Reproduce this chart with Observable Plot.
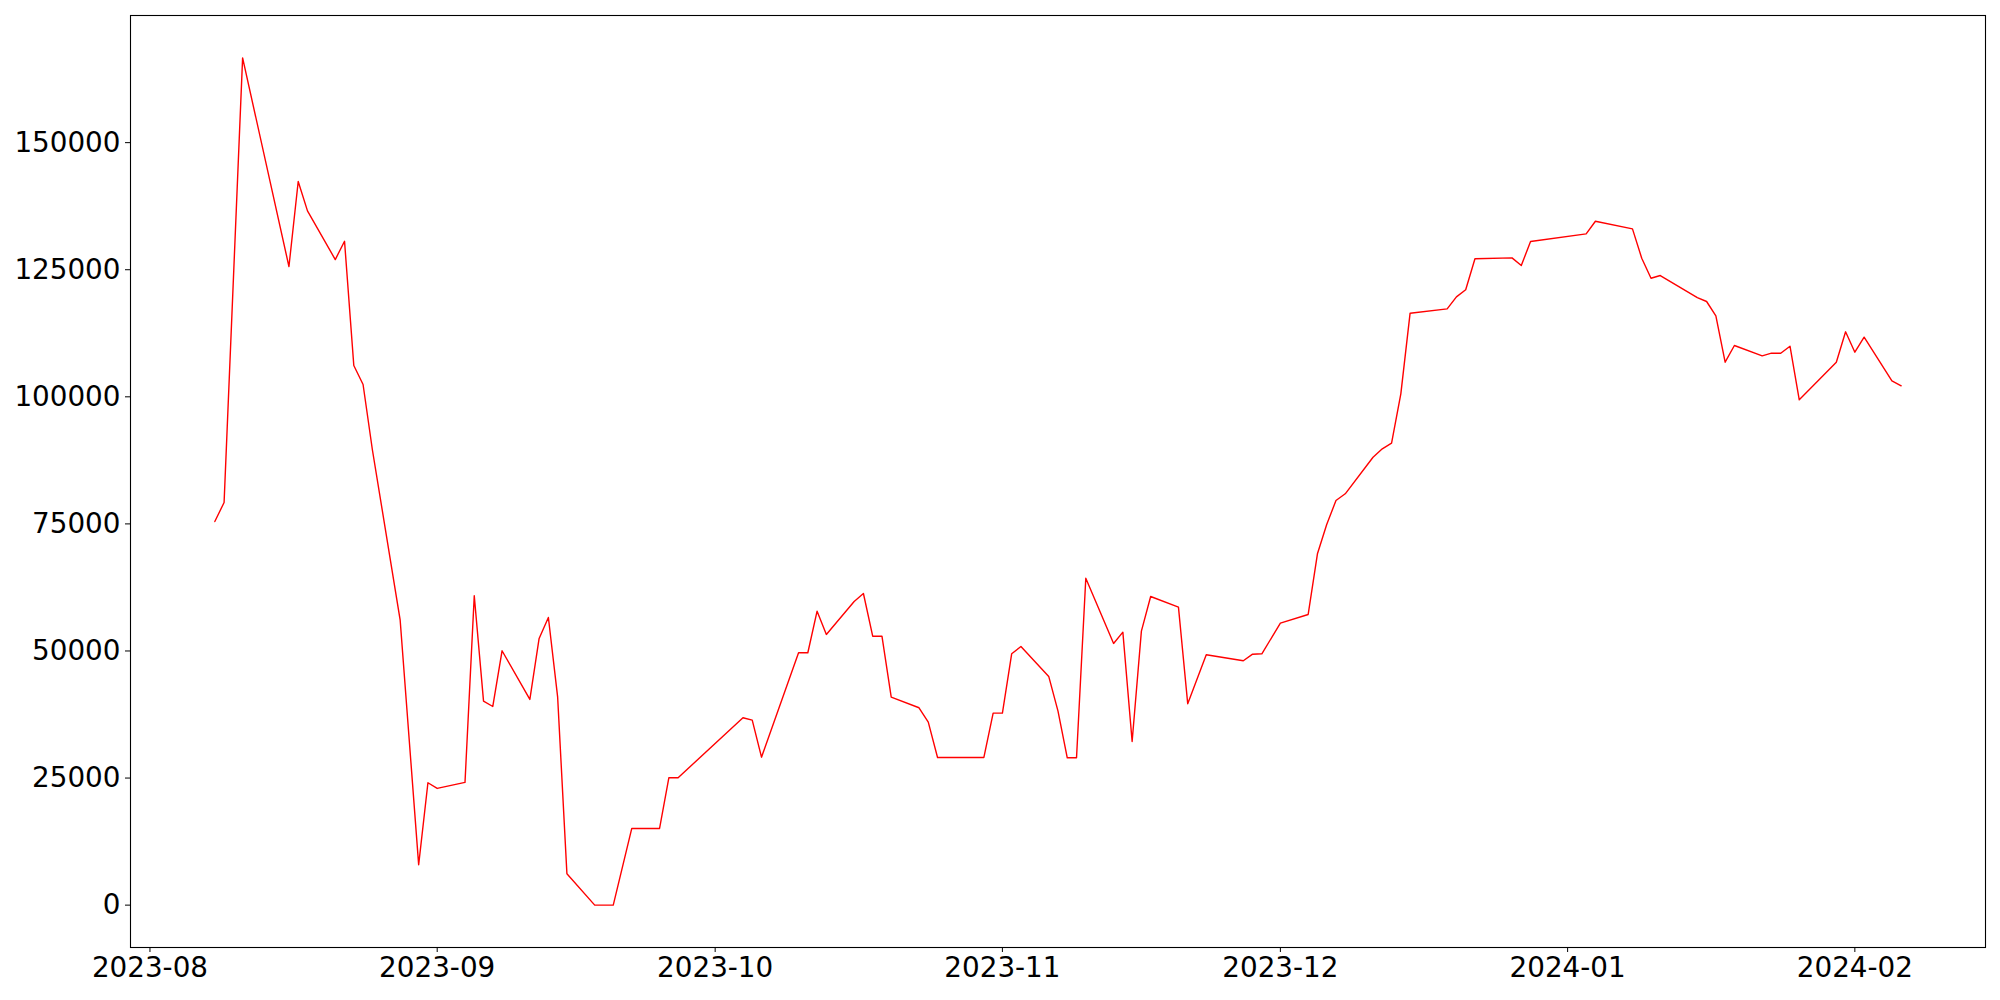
<!DOCTYPE html>
<html>
<head>
<meta charset="utf-8">
<script src="https://cdn.jsdelivr.net/npm/d3@7"></script>
<script src="https://cdn.jsdelivr.net/npm/@observablehq/plot@0.6"></script>
<style>
  html, body { margin: 0; padding: 0; background: #ffffff; }
  #chart { width: 2000px; height: 1000px; }
</style>
</head>
<body>
<div id="chart"></div>
<script>
// Dates of the observations (gaps in the series are drawn as straight segments)
const dates = [
  "2023-08-08","2023-08-09","2023-08-11","2023-08-16","2023-08-17","2023-08-18","2023-08-21","2023-08-22",
  "2023-08-23","2023-08-24","2023-08-25","2023-08-28","2023-08-30","2023-08-31","2023-09-01","2023-09-04",
  "2023-09-05","2023-09-06","2023-09-07","2023-09-08","2023-09-11","2023-09-12","2023-09-13","2023-09-14",
  "2023-09-15","2023-09-18","2023-09-20","2023-09-22","2023-09-25","2023-09-26","2023-09-27","2023-10-04",
  "2023-10-05","2023-10-06","2023-10-10","2023-10-11","2023-10-12","2023-10-13","2023-10-16","2023-10-17",
  "2023-10-18","2023-10-19","2023-10-20","2023-10-23","2023-10-24","2023-10-25","2023-10-30","2023-10-31",
  "2023-11-01","2023-11-02","2023-11-03","2023-11-06","2023-11-07","2023-11-08","2023-11-09","2023-11-10",
  "2023-11-13","2023-11-14","2023-11-15","2023-11-16","2023-11-17","2023-11-20","2023-11-21","2023-11-23",
  "2023-11-27","2023-11-28","2023-11-29","2023-12-01","2023-12-04","2023-12-05","2023-12-06","2023-12-07",
  "2023-12-08","2023-12-11","2023-12-12","2023-12-13","2023-12-14","2023-12-15","2023-12-19","2023-12-20",
  "2023-12-21","2023-12-22","2023-12-26","2023-12-27","2023-12-28","2024-01-03","2024-01-04","2024-01-08",
  "2024-01-09","2024-01-10","2024-01-11","2024-01-15","2024-01-16","2024-01-17","2024-01-18","2024-01-19",
  "2024-01-22","2024-01-23","2024-01-24","2024-01-25","2024-01-26","2024-01-30","2024-01-31","2024-02-01",
  "2024-02-02","2024-02-05","2024-02-06"
];

// Series values
const values = [
  75470, 79210, 166680, 125630, 142350, 136580, 127000, 130600,
  106160, 102420, 89640, 56140, 7950, 24080, 22960, 24140,
  60860, 40130, 39080, 50040, 40460, 52460, 56590, 40910,
  6180, 0, 0, 15090, 15090, 25060, 25060, 36860,
  36390, 29110, 49650, 49650, 57830, 53250, 59740, 61310,
  52910, 52910, 40910, 38830, 36000, 29050, 29050, 37770,
  37770, 49450, 50890, 44990, 38160, 28990, 28990, 64320,
  51480, 53700, 32200, 53900, 60720, 58620, 39610, 49250,
  48070, 49370, 49450, 55470, 57180, 69120, 74880, 79600,
  80920, 88120, 89770, 90870, 100590, 116450, 117310, 119670,
  121050, 127150, 127340, 125830, 130550, 132060, 134540, 133040,
  127260, 123330, 123860, 119530, 118750, 115930, 106810, 110090,
  108060, 108580, 108580, 109960, 99410, 106810, 112790, 108780,
  111730, 103150, 102170
];

// Tick positions
const xTickLabels = ["2023-08","2023-09","2023-10","2023-11","2023-12","2024-01","2024-02"];
const yTicks = [0, 25000, 50000, 75000, 100000, 125000, 150000];

const parse = s => new Date(s + "T00:00:00Z");
const data = dates.map((d, i) => ({ date: parse(d), value: values[i] }));
const xTicks = xTickLabels.map(s => parse(s + "-01"));

// matplotlib-style 5% autoscale margins
const tMin = d3.min(data, d => +d.date), tMax = d3.max(data, d => +d.date);
const tPad = (tMax - tMin) * 0.05;
const vMin = d3.min(values), vMax = d3.max(values);
const vPad = (vMax - vMin) * 0.05;

const chart = Plot.plot({
  width: 2000,
  height: 1000,
  marginLeft: 130,
  marginRight: 15,
  marginTop: 15,
  marginBottom: 53,
  style: { fontFamily: "'DejaVu Sans', sans-serif", fontSize: "27.8px", background: "#ffffff", color: "#000000", overflow: "visible" },
  x: { type: "utc", domain: [new Date(tMin - tPad), new Date(tMax + tPad)] },
  y: { domain: [vMin - vPad, vMax + vPad] },
  marks: [
    Plot.line(data, { x: "date", y: "value", stroke: "#ff0000", strokeWidth: 1.4 }),
    Plot.frame({ stroke: "#000000", strokeWidth: 1.1 }),
    Plot.axisX({ ticks: xTicks, tickFormat: d3.utcFormat("%Y-%m"), tickSize: 5, tickPadding: 5, label: null, fontSize: 27.8, stroke: "#000000" }),
    Plot.axisY({ ticks: yTicks, tickFormat: d3.format("d"), tickSize: 5, tickPadding: 5, label: null, fontSize: 27.8, stroke: "#000000" })
  ]
});
document.getElementById("chart").appendChild(chart);
</script>
</body>
</html>
